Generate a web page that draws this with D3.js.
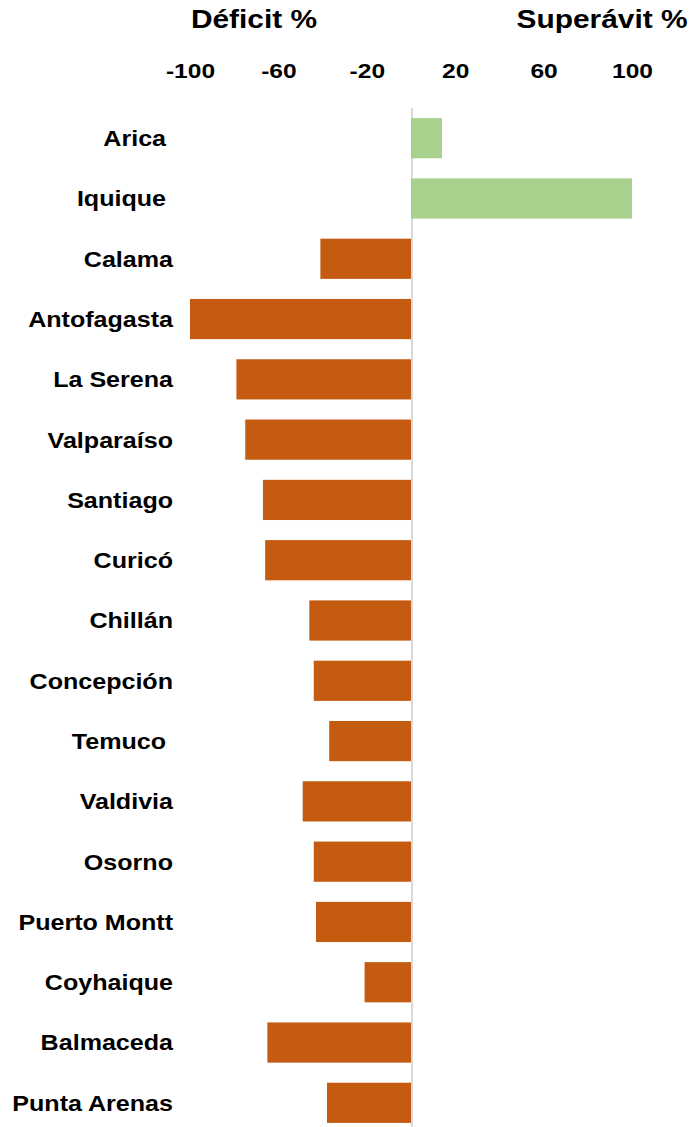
<!DOCTYPE html>
<html>
<head>
<meta charset="utf-8">
<script src="https://cdn.jsdelivr.net/npm/d3@7"></script>
<style>
  body { margin: 0; background: #fff; }
  svg text { font-family: "Liberation Sans", Arial, sans-serif; font-weight: bold; fill: #000; white-space: pre; }
</style>
</head>
<body>
<svg id="chart" width="697" height="1127"></svg>
<script>
// cities north to south, with trailing spaces kept as in the source labels
var cities = ["Arica ", "Iquique ", "Calama", "Antofagasta", "La Serena", "Valparaíso",
  "Santiago", "Curicó", "Chillán", "Concepción", "Temuco ", "Valdivia", "Osorno",
  "Puerto Montt", "Coyhaique", "Balmaceda", "Punta Arenas"];
// balance in %, negative = deficit, positive = surplus
var balance = [14, 100, -41, -100, -79, -75, -67, -66, -46, -44, -37, -49, -44, -43, -21, -65, -38];
var tickValues = [-100, -60, -20, 20, 60, 100];
var titles = ["Déficit %", "Superávit %"];

var svg = d3.select("#chart");

var x = d3.scaleLinear().domain([-100, 100]).range([190, 632]);
var y = d3.scaleBand().domain(cities).range([98, 1143]).paddingInner(1 / 3).paddingOuter(1 / 3);

//zero line
svg.append("line")
  .attr("x1", x(0) + 1).attr("x2", x(0) + 1)
  .attr("y1", 108).attr("y2", 1127)
  .attr("stroke", "#d9d9d9")
  .attr("stroke-width", 2);

//bars
svg.append("g").selectAll("rect")
  .data(cities)
  .join("rect")
  .attr("x", function(d, i) { return Math.min(x(0), x(balance[i])); })
  .attr("width", function(d, i) { return Math.abs(x(balance[i]) - x(0)); })
  .attr("y", function(d) { return y(d); })
  .attr("height", y.bandwidth())
  .attr("fill", function(d, i) { return balance[i] < 0 ? "#c55a11" : "#a9d18e"; });

//category labels (source picture is stretched a bit horizontally)
var yAxis = svg.append("g")
  .attr("transform", "translate(173,0)")
  .call(d3.axisLeft(y).tickSize(0).tickPadding(0));
yAxis.select(".domain").remove();
yAxis.selectAll("text")
  .attr("x", 0)
  .attr("dy", "0.36em")
  .attr("transform", "scale(1.14,1)")
  .style("font-size", "22px");

//top tick labels
var xAxis = svg.append("g")
  .attr("transform", "translate(0,78)")
  .call(d3.axisTop(x).tickValues(tickValues).tickSize(0).tickPadding(0)
    .tickFormat(function(d) { return String(d); }));
xAxis.select(".domain").remove();
xAxis.selectAll("text")
  .attr("transform", "scale(1.17,1)")
  .style("font-size", "21px");

//titles
svg.selectAll(".title")
  .data(titles)
  .join("text")
  .attr("class", "title")
  .attr("text-anchor", "middle")
  .attr("transform", function(d, i) {
    return "translate(" + (i === 0 ? 254 : 602) + ",28) scale(1.15,1)";
  })
  .style("font-size", "26px")
  .text(function(d) { return d; });
</script>
</body>
</html>
